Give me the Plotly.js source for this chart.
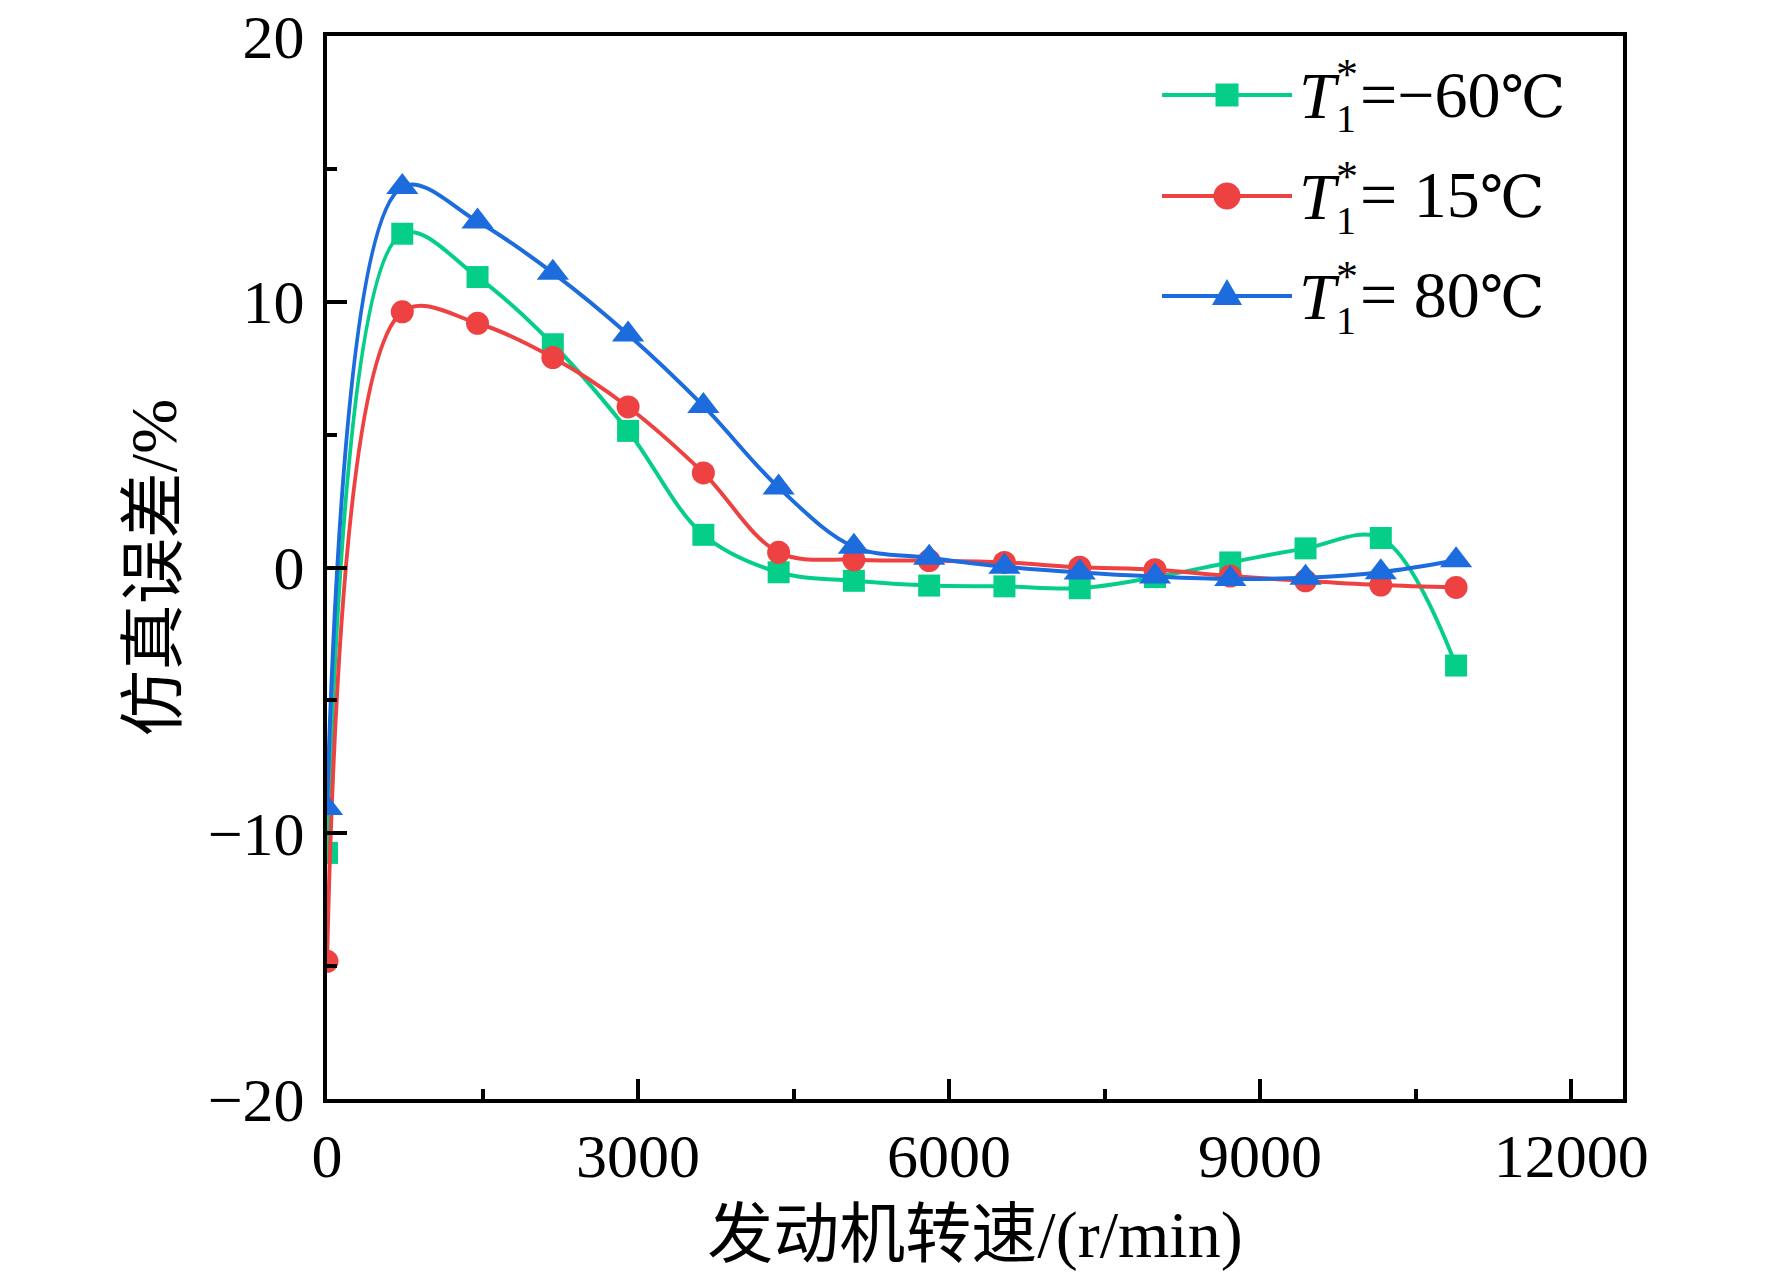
<!DOCTYPE html>
<html>
<head>
<meta charset="utf-8">
<script src="https://cdn.plot.ly/plotly-3.0.1.min.js"></script>
<style>html,body{margin:0;padding:0;background:#fff;}#chart{width:1772px;height:1279px;}</style>
</head>
<body>
<div id="chart"></div>
<script>
// Engine speed (r/min)
var speed = [0, 726, 1452, 2178, 2904, 3630, 4356, 5082, 5808, 6534, 7260, 7986, 8712, 9438, 10164, 10890];
// Simulation error (%)
var errMinus60 = [-10.74, 12.56, 10.93, 8.40, 5.14, 1.23, -0.18, -0.50, -0.68, -0.71, -0.78, -0.36, 0.19, 0.72, 1.11, -3.69];
var err15 = [-14.82, 9.62, 9.19, 7.90, 6.04, 3.56, 0.57, 0.29, 0.26, 0.19, 0.01, -0.08, -0.32, -0.50, -0.66, -0.75];
var err80 = [-9.05, 14.32, 13.02, 11.09, 8.77, 6.08, 3.01, 0.78, 0.37, 0.03, -0.19, -0.34, -0.43, -0.39, -0.18, 0.27];
// Legend labels: T with stacked superscript * and subscript 1, then the value and unit
var seriesValueText = ['=\u221260', '= 15', '= 80'];
var unitText = '\u2103';
var xTickVals = [0, 3000, 6000, 9000, 12000];
var xTickText = ['0', '3000', '6000', '9000', '12000'];
var yTickVals = [-20, -10, 0, 10, 20];
var yTickText = ['\u221220', '\u221210', '0', '10', '20'];
var xTitle = '发动机转速/(r/min)';
var yTitle = '仿真误差/%';

var FONT = 'Liberation Serif, Times New Roman, Noto Sans CJK SC, serif';
var colors = ['#05CE89', '#EE4141', '#1C6CDD'];
var symbols = ['square', 'circle', 'triangle-up'];
var sizes = [22, 23, 28];
var series = [errMinus60, err15, err80];

var data = series.map(function (y, i) {
  return {
    x: speed, y: y, type: 'scatter', mode: 'lines+markers', showlegend: false,
    line: {color: colors[i], width: 4, shape: 'spline', smoothing: 1},
    marker: {color: colors[i], symbol: symbols[i], size: sizes[i]}
  };
});

// plot area in pixels (for placing the hand-built legend)
var PL = 327, PW = 1296, PT = 36, PH = 1063;
function px(v) { return (v - PL) / PW; }
function py(v) { return (PT + PH - v) / PH; }

var rowY = [95, 196, 296];
var lineX0 = 1162, lineX1 = 1292, markX = 1227;
var shapes = [], annotations = [];
rowY.forEach(function (ry, i) {
  shapes.push({type: 'line', xref: 'paper', yref: 'paper', x0: px(lineX0), x1: px(lineX1), y0: py(ry), y1: py(ry),
    line: {color: colors[i], width: 4}});
  if (symbols[i] === 'square') {
    shapes.push({type: 'rect', xref: 'paper', yref: 'paper', x0: px(markX - 11.5), x1: px(markX + 11.5), y0: py(ry + 11.5), y1: py(ry - 11.5),
      fillcolor: colors[i], line: {width: 0}});
  } else if (symbols[i] === 'circle') {
    shapes.push({type: 'circle', xref: 'paper', yref: 'paper', x0: px(markX - 13.5), x1: px(markX + 13.5), y0: py(ry + 13.5), y1: py(ry - 13.5),
      fillcolor: colors[i], line: {width: 0}});
  } else {
    shapes.push({type: 'path', xref: 'paper', yref: 'paper',
      path: 'M' + px(markX - 15) + ',' + py(ry + 9) + ' L' + px(markX + 15) + ',' + py(ry + 9) + ' L' + px(markX) + ',' + py(ry - 17) + ' Z',
      fillcolor: colors[i], line: {width: 0}});
  }
  var base = {xref: 'paper', yref: 'paper', showarrow: false, xanchor: 'left', yanchor: 'middle', borderpad: 0, align: 'left'};
  annotations.push(Object.assign({}, base, {x: px(1298), y: py(ry), text: '<i>T</i>', font: {family: FONT, size: 66, color: '#000'}}));
  annotations.push(Object.assign({}, base, {x: px(1335), y: py(ry + 1), text: '<span style="font-size:44px">*</span><br><span style="font-size:40px">1</span>', font: {family: FONT, size: 33, color: '#000'}}));
  annotations.push(Object.assign({}, base, {x: px(1359), y: py(ry - 1),
    text: seriesValueText[i] + '<span style="font-family:DejaVu Serif;font-size:58px">' + unitText + '</span>',
    font: {family: FONT, size: 66, color: '#000'}}));
});

var layout = {
  width: 1772, height: 1279,
  margin: {l: PL, r: 1772 - PL - PW, t: PT, b: 1279 - PT - PH, pad: 0},
  paper_bgcolor: '#fff', plot_bgcolor: '#fff',
  font: {family: FONT, size: 62, color: '#000'},
  showlegend: false,
  shapes: shapes,
  annotations: annotations,
  xaxis: {
    range: [0, 12500], tickmode: 'array', tickvals: xTickVals, ticktext: xTickText,
    ticks: 'inside', ticklen: 20, tickwidth: 4, tickcolor: '#000',
    showline: true, linewidth: 4, linecolor: '#000', mirror: true,
    showgrid: false, zeroline: false,
    tickfont: {family: FONT, size: 62},
    ticklabelstandoff: 0,
    minor: {dtick: 1500, tick0: 0, ticks: 'inside', ticklen: 10, tickwidth: 4, tickcolor: '#000', showgrid: false},
    title: {text: xTitle, font: {family: FONT, size: 66}, standoff: 22}
  },
  yaxis: {
    range: [-20, 20], tickmode: 'array', tickvals: yTickVals, ticktext: yTickText,
    ticks: 'inside', ticklen: 20, tickwidth: 4, tickcolor: '#000',
    showline: true, linewidth: 4, linecolor: '#000', mirror: true,
    showgrid: false, zeroline: false,
    tickfont: {family: FONT, size: 62},
    ticklabelstandoff: 6,
    minor: {dtick: 5, tick0: 0, ticks: 'inside', ticklen: 10, tickwidth: 4, tickcolor: '#000', showgrid: false},
    title: {text: yTitle, font: {family: FONT, size: 66}, standoff: 11}
  }
};

Plotly.newPlot('chart', data, layout, {staticPlot: true, displayModeBar: false});
</script>
</body>
</html>
